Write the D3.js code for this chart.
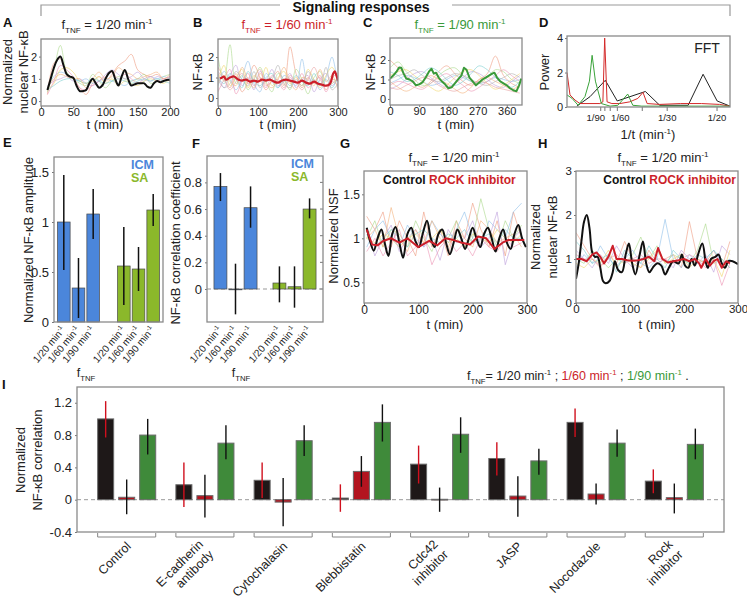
<!DOCTYPE html>
<html><head><meta charset="utf-8">
<script src="https://cdn.jsdelivr.net/npm/d3@7"></script>
<style>body{margin:0;background:#fff} svg{display:block}</style>
</head><body>
<script>
// ================= DATA =================
// Panel A (f = 1/20)
const tA_mean = [10,15,20,25,30,35,40,45,50,55,60,65,70,75,80,85,90,95,100,105,110,115,120,125,130,135,140,145,150,155,160,165,170,175,180,185,190,195,200];
const vA_mean = [0.5,1.0,1.5,1.85,2.0,1.6,1.2,1.1,1.05,0.7,0.45,0.45,0.5,0.8,1.0,0.8,0.6,0.7,1.0,1.25,1.35,1.0,0.7,1.1,1.4,1.0,0.7,0.75,0.8,0.8,0.8,0.65,0.6,0.8,0.9,0.85,0.9,0.95,0.95];
const tA_thin = [10,20,30,40,50,60,70,80,90,100,110,120,130,140,150,160,170,180,190,200];
const vA_thin = [
 [0.3,1.7,1.9,1.2,1.0,0.6,0.3,0.8,1.1,0.9,1.2,1.6,1.8,2.1,1.4,1.2,1.1,1.2,1.0,1.1],
 [0.4,1.4,2.5,1.3,1.0,0.8,0.7,1.2,0.9,0.6,0.9,1.1,1.0,0.9,1.0,1.2,0.8,0.9,1.1,1.2],
 [0.6,1.1,1.3,1.2,1.0,0.9,1.0,0.8,0.9,1.0,0.9,0.8,0.7,0.9,1.0,0.9,1.1,1.0,1.1,1.0],
 [0.7,0.9,1.0,1.1,0.9,1.0,0.8,0.7,0.9,1.2,1.4,1.2,1.0,1.1,1.3,1.0,0.9,1.1,1.0,0.9],
 [0.5,0.8,1.4,1.5,1.3,0.9,0.8,0.9,1.1,0.8,1.0,0.7,0.9,0.8,0.7,0.9,1.0,0.9,0.8,1.0],
 [0.3,0.9,1.6,1.4,1.1,0.6,0.5,0.7,0.9,1.1,1.3,1.0,1.2,1.0,0.8,1.0,1.1,0.9,1.0,1.1],
 [0.5,0.7,0.9,1.0,1.0,0.9,0.8,1.0,0.9,0.8,0.9,1.0,0.9,0.8,0.9,1.0,0.9,1.0,0.9,0.8],
 [0.6,1.0,1.2,1.1,1.0,1.0,0.6,1.0,1.3,1.0,1.1,1.5,1.3,1.2,1.0,1.1,1.2,1.3,1.0,1.2]
];
// Panel B (f = 1/60)
const tB_mean = [5,10,15,20,30,40,50,60,70,80,90,100,110,120,130,140,150,160,170,180,190,200,210,220,230,240,250,260,270,280,288,292,296,300];
const vB_mean = [0.95,1.0,1.05,0.9,1.0,1.05,0.9,0.85,0.9,0.8,0.85,0.8,0.9,0.85,0.9,0.8,0.75,0.85,0.9,0.85,0.8,0.75,0.85,0.75,0.7,0.8,0.7,0.65,0.6,0.7,1.2,1.3,1.1,0.85];
const tB_thin = [0,15,30,45,60,75,90,105,120,135,150,165,180,195,210,225,240,255,270,285,300];
const vB_thin = [
 [1.5,1.0,0.5,1.2,0.3,0.8,1.6,1.0,0.4,0.9,1.3,0.6,2.5,1.2,0.5,1.0,0.7,1.1,0.4,0.9,0.8],
 [2.0,0.8,2.6,0.7,1.1,0.4,0.9,1.5,0.8,0.3,1.2,0.9,0.4,1.4,0.9,0.2,1.0,1.3,0.6,0.7,1.0],
 [0.6,1.3,0.9,0.4,1.0,1.8,0.7,0.3,1.2,0.8,0.5,1.1,0.9,0.6,1.9,0.7,0.9,0.4,1.0,2.0,0.5],
 [1.2,0.5,1.1,1.6,0.6,1.0,0.4,1.3,0.9,1.4,0.6,0.8,1.2,0.5,0.9,1.1,0.3,0.9,1.2,0.6,1.0],
 [0.8,1.6,0.6,1.0,1.4,0.5,1.1,0.8,1.5,0.6,1.0,1.3,0.7,1.0,0.6,1.4,0.9,0.5,1.1,1.5,0.9],
 [0.3,0.9,1.4,0.2,0.8,1.2,0.6,1.0,0.5,1.1,0.8,0.4,1.0,0.7,1.2,0.5,0.8,1.0,0.3,0.8,0.6],
 [1.0,0.7,1.2,0.9,0.5,1.3,0.8,0.6,1.0,1.2,0.5,0.9,0.6,1.1,0.8,0.6,1.2,0.7,0.9,0.5,1.1],
 [0.7,1.1,0.8,0.6,1.5,0.9,0.5,1.2,0.7,0.5,0.9,1.5,0.8,0.4,1.0,0.9,0.6,1.4,0.8,1.1,0.4],
 [0.9,0.5,0.7,1.3,0.9,0.6,1.3,0.5,0.9,1.0,1.6,0.7,0.5,0.9,0.6,1.3,0.8,0.6,1.5,0.4,0.7],
 [1.3,0.9,0.4,0.8,1.2,0.7,1.0,1.4,0.6,0.8,0.9,0.5,1.1,0.8,0.4,0.9,1.5,0.9,0.6,1.0,1.2]
];
// Panel C (f = 1/90)
const tC_mean = [0,10,20,28,35,42,50,60,70,80,90,100,110,120,128,135,142,150,160,170,180,190,200,210,220,228,236,245,255,265,275,285,295,305,315,322,330,340,350,360,370,380,390,398,405];
const vC_mean = [1.05,1.2,1.4,1.62,1.6,1.3,1.05,1.0,0.9,0.7,0.75,0.85,1.1,1.4,1.55,1.3,1.35,1.1,0.9,0.75,0.55,0.6,0.8,1.0,1.2,1.6,1.5,1.1,0.9,0.7,0.85,1.0,1.1,1.2,1.3,1.35,1.1,0.9,0.8,0.7,0.55,0.45,0.4,0.7,1.05];
const tC_thin = [0,25,50,75,100,125,150,175,200,225,250,275,300,325,350,375,400];
const vC_thin = [
 [2.0,1.6,1.2,0.8,0.6,0.9,1.4,1.7,1.3,0.9,0.7,1.0,1.3,2.2,1.2,0.8,0.6],
 [1.6,1.9,1.4,1.0,0.7,0.8,1.2,1.5,1.6,1.2,0.9,0.8,1.1,1.5,1.4,1.0,0.8],
 [0.8,1.0,1.2,1.1,0.9,0.7,0.8,1.0,1.2,1.1,0.9,0.8,0.9,1.1,1.0,0.9,1.0],
 [0.5,0.7,1.0,1.3,1.4,1.1,0.8,0.6,0.8,1.1,1.4,1.3,1.0,0.7,0.6,0.9,1.2],
 [1.2,1.4,1.5,1.2,0.9,0.6,0.4,0.7,1.1,1.4,1.5,1.2,0.8,0.5,0.7,1.0,1.3],
 [0.7,0.9,0.8,0.6,0.5,0.8,1.1,1.3,1.0,0.7,0.4,0.6,0.9,1.2,1.5,1.2,0.9],
 [1.4,1.2,0.9,1.0,1.3,1.6,1.4,1.0,0.7,0.9,1.3,1.7,1.5,1.1,0.8,0.6,0.9],
 [0.9,0.6,0.4,0.6,0.9,1.2,1.0,0.8,0.5,0.3,0.6,1.0,1.1,0.9,0.7,0.5,0.7],
 [1.0,1.2,1.3,1.5,1.2,1.0,0.9,1.1,1.3,1.2,1.0,0.8,0.7,0.9,1.1,1.3,1.1],
 [0.6,0.5,0.7,0.9,1.1,1.0,0.7,0.5,0.4,0.6,0.8,0.9,0.8,0.6,0.5,0.4,0.3]
];
// Panel D (FFT power spectra: [frequency, power])
const dBlack = [[0.0033,0.05],[0.0077,0.6],[0.0128,1.55],[0.0168,0.35],[0.0262,0.9],[0.031,0.1],[0.0405,0.1],[0.0455,1.9],[0.0502,0.35],[0.0545,0.05]];
const dRed = [[0,2.0],[0.001,0.7],[0.0027,0.4],[0.0043,0.2],[0.011,0.2],[0.012,0.3],[0.0126,4.0],[0.0134,0.3],[0.015,0.2],[0.0177,0.2],[0.021,0.3],[0.0237,0.5],[0.0254,0.85],[0.0268,0.2],[0.031,0.15],[0.038,0.2],[0.045,0.2],[0.051,0.15],[0.0545,0.05]];
const dGreen = [[0,0.7],[0.0017,0.5],[0.0037,0.1],[0.006,0.6],[0.0075,1.5],[0.0084,3.0],[0.0095,1.5],[0.0115,0.2],[0.0144,0.05],[0.017,0.1],[0.0203,0.75],[0.022,0.1],[0.025,0.05],[0.04,0.05],[0.0545,0.05]];
const dTicks = [1/90,1/80,1/70,1/60,1/40,1/30,1/20];
const dTickLabels = {"0.0111":"1/90","0.0167":"1/60","0.0333":"1/30","0.0500":"1/20"};
// Panel E (amplitude) and F (correlation)
const freqLabels = ["1/20","1/60","1/90"];
const tissues = ["ICM","SA"];
const eVal = {ICM:[1.0,0.34,1.08], SA:[0.56,0.53,1.12]};
const eLo  = {ICM:[0.52,0.04,0.83], SA:[0.17,0.31,0.96]};
const eHi  = {ICM:[1.47,0.64,1.33], SA:[0.95,0.75,1.28]};
const fVal = {ICM:[0.77,-0.005,0.61], SA:[0.045,0.017,0.6]};
const fLo  = {ICM:[0.66,-0.19,0.46], SA:[-0.1,-0.14,0.53]};
const fHi  = {ICM:[0.87,0.19,0.77], SA:[0.17,0.17,0.68]};
// Panel G (NSF)
const tG_black = [5,12,18,25,32,38,45,52,58,65,72,80,87,94,101,108,116,123,130,137,144,151,158,165,172,179,186,193,200,207,214,221,228,235,242,249,256,263,270,277,284,291,298];
const vG_black = [1.12,0.95,0.86,1.0,1.1,0.95,0.8,1.05,1.13,0.95,0.78,1.05,1.12,0.98,0.9,1.05,1.2,1.0,0.9,1.05,1.1,0.95,0.82,0.95,1.1,1.0,0.88,1.0,1.12,1.0,0.9,1.05,1.12,1.0,0.85,1.0,1.1,0.95,0.88,1.05,1.15,1.0,0.9];
const tG_red = [5,15,25,35,50,65,80,90,100,120,135,150,165,180,195,210,225,240,255,265,280,295];
const vG_red = [1.1,0.93,0.92,0.97,1.0,0.95,1.0,0.95,0.9,0.97,0.92,1.0,0.98,0.95,0.93,1.02,1.0,0.88,0.95,0.98,0.98,0.98];
const tG_thin = [5,20,35,50,65,80,95,110,125,140,155,170,185,200,215,230,245,260,275,290];
const vG_thin = [
 [1.25,1.1,1.3,0.9,1.2,1.0,0.8,1.3,0.9,1.1,0.8,1.2,1.0,1.4,1.1,0.9,1.2,0.8,1.3,1.0],
 [1.0,1.2,0.9,1.1,1.05,0.9,1.2,1.0,0.85,1.1,1.0,1.2,0.9,1.0,1.45,1.1,0.9,1.2,1.0,1.15],
 [0.9,1.1,1.2,1.0,0.9,1.15,1.0,0.9,1.2,1.05,0.95,1.1,1.3,1.0,0.9,1.2,1.1,1.0,1.3,1.4],
 [1.1,0.8,1.0,1.15,0.85,1.0,1.1,0.9,1.0,0.75,1.1,0.95,1.0,1.2,0.9,1.0,1.3,0.7,1.0,1.1],
 [1.0,0.95,1.05,1.0,0.9,1.0,1.05,0.95,1.0,1.1,0.95,1.0,0.9,1.05,1.0,0.95,1.1,1.0,0.95,1.05],
 [0.85,1.0,0.8,0.95,1.1,0.8,0.9,1.05,0.7,0.9,1.0,0.85,0.95,0.8,1.0,0.9,0.85,1.0,0.9,0.95],
 [1.05,0.9,1.0,1.1,1.0,0.9,1.05,1.1,1.0,0.95,1.05,1.0,1.1,0.95,1.0,1.05,0.95,1.1,1.0,1.0],
 [1.0,1.1,0.9,1.35,1.0,0.85,1.1,0.95,1.2,1.0,0.9,1.1,1.0,0.9,1.2,1.1,0.95,1.0,1.05,0.9]
];
// Panel H (nuclear NF-kB)
const tH_black = [0,5,10,15,20,25,30,35,40,45,50,55,62,68,72,78,85,92,98,104,110,118,124,130,136,142,150,158,165,172,180,190,196,202,208,214,220,226,234,240,244,250,258,264,270,276,282,290,300];
const vH_black = [0.55,0.9,1.4,1.85,2.0,1.7,1.15,1.05,1.05,0.8,0.5,0.45,0.5,0.7,0.95,0.75,0.7,1.1,1.35,0.9,0.65,1.1,1.4,0.9,0.7,0.8,0.9,0.85,0.65,0.8,0.95,0.9,1.1,0.85,0.8,1.0,0.85,1.1,1.35,0.95,0.8,1.0,1.05,1.1,0.9,0.8,0.95,0.95,0.88];
const tH_red = [0,10,20,30,38,45,52,60,68,75,85,95,105,115,125,135,145,152,160,170,180,190,200,210,220,228,232,240,248,255,262,270,278,285];
const vH_red = [1.0,1.0,0.95,1.1,1.15,1.05,0.9,1.05,1.3,1.0,1.0,0.97,0.96,0.97,1.0,1.05,0.95,1.25,1.0,0.92,0.95,0.97,1.0,0.95,1.0,0.9,0.8,1.0,0.85,0.95,1.0,0.8,0.95,0.9];
const tH_thin = [0,15,30,45,60,75,90,105,120,135,150,165,180,195,210,225,240,255,270,285];
const vH_thin = [
 [1.6,1.3,1.0,0.8,1.1,0.9,1.4,1.0,0.8,1.2,0.9,1.0,1.1,0.8,1.85,1.0,0.9,1.2,0.8,1.4],
 [1.0,0.9,1.2,1.0,0.8,1.0,0.9,1.1,1.5,1.0,1.3,0.9,1.1,1.0,0.9,1.2,1.8,0.9,1.0,0.8],
 [0.8,1.1,0.9,1.3,1.0,0.85,1.0,1.2,0.9,0.8,1.0,1.9,1.0,0.8,1.1,0.9,1.0,1.2,0.9,1.0],
 [1.2,1.0,0.8,1.1,0.9,1.3,1.0,0.8,1.0,1.1,0.9,1.0,0.8,1.2,1.0,0.9,1.1,0.7,1.3,1.1],
 [0.9,0.8,1.0,0.9,1.2,0.8,1.0,0.9,0.8,1.0,1.2,0.9,1.0,1.1,0.8,1.0,0.9,1.0,0.6,1.2],
 [1.1,1.0,1.0,0.85,1.0,1.1,0.9,1.0,1.1,0.9,1.0,1.0,0.9,1.0,1.1,1.0,0.8,1.0,0.4,0.9],
 [1.4,1.2,0.9,1.0,1.1,0.7,1.2,1.0,0.9,1.3,1.0,0.8,1.2,1.0,0.9,1.1,1.0,1.2,1.0,0.8]
];
// Panel I (normalized correlation per treatment)
const treatments = ["Control","E-cadherin\nantibody","Cytochalasin","Blebbistatin","Cdc42\ninhibitor","JASP","Nocodazole","Rock\ninhibitor"];
const iFreqs = ["20","60","90"];
const i20 = [1.0,0.185,0.24,0.02,0.44,0.51,0.957,0.23];
const i20lo = [0.77,-0.09,0.02,-0.15,0.2,0.3,0.775,0.08];
const i20hi = [1.22,0.46,0.46,0.19,0.67,0.71,1.13,0.375];
const i60 = [0.03,0.05,-0.03,0.35,0.005,0.045,0.07,0.025];
const i60lo = [-0.18,-0.22,-0.33,0.16,-0.15,-0.21,-0.06,-0.17];
const i60hi = [0.25,0.31,0.27,0.54,0.15,0.29,0.2,0.2];
const i90 = [0.8,0.7,0.73,0.957,0.81,0.48,0.7,0.685];
const i90lo = [0.56,0.5,0.54,0.72,0.58,0.31,0.53,0.5];
const i90hi = [1.0,0.92,0.92,1.18,1.02,0.63,0.87,0.88];

// ================= STYLE =================
const FONT = '"Liberation Sans", Arial, Helvetica, sans-serif';
const RED = '#cc1f2a', GREEN = '#3a9a3a', TXT = '#222', FRAME = '#8a8a8a';
const THIN = ['#ee9a80','#a9d98a','#8fc0ea','#bd9fdc','#f0d56a','#ec94b4','#7ccfd0','#f4b27c','#b0b0b0','#e8a0a0'];
const BLUEBAR = '#4b86db', GREENBAR = '#8bb82b';
const IBLACK = '#1e1818', IRED = '#b3141f', IGREEN = '#3f8a3a';

const svg = d3.select('body').append('svg').attr('width',747).attr('height',599).attr('font-family',FONT);
svg.append('rect').attr('width',747).attr('height',599).attr('fill','#fff');
const defs = svg.append('defs');
let clipN = 0;

function rich(t, parts, base){
  let off = 0;
  parts.forEach(p=>{
    const small = p.sub||p.sup;
    const target = p.sub ? 0.3 : (p.sup ? -0.42 : 0);
    const ts = t.append('tspan').text(p.t);
    if(small) ts.attr('font-size', base*0.62);
    if(p.fill) ts.attr('fill', p.fill);
    const dy = (target-off)*base;
    if(dy!==0) ts.attr('dy', dy);
    off = target;
  });
  return t;
}
function label(x,y,parts,o={}){
  const size = o.size||12;
  const t = svg.append('text').attr('x',x).attr('y',y).attr('font-size',size)
    .attr('fill',o.fill||TXT).attr('text-anchor',o.anchor||'middle');
  if(o.weight) t.attr('font-weight',o.weight);
  if(o.rotate!=null) t.attr('transform',`rotate(${o.rotate},${x},${y})`);
  if(typeof parts==='string') t.text(parts); else rich(t,parts,size);
  return t;
}
const fT = (rest) => [{t:'f'},{t:'TNF',sub:true},{t:rest},{t:'-1',sup:true}];

function styleAxis(g, fs){
  g.attr('font-family',FONT);
  g.select('.domain').remove();
  g.selectAll('line').attr('stroke','#777');
  g.selectAll('text').attr('font-size',fs).attr('fill',TXT);
  g.selectAll('text').filter(function(){return this.textContent==='';}).remove();
}

function panel(box, xd, yd, xt, yt, o={}){
  const [x0,x1,y0,y1] = box;
  const x = d3.scaleLinear().domain(xd).range([x0,x1]);
  const y = d3.scaleLinear().domain(yd).range([y1,y0]);
  const id = 'clip'+(clipN++);
  defs.append('clipPath').attr('id',id).append('rect').attr('x',x0).attr('y',y0).attr('width',x1-x0).attr('height',y1-y0);
  const clip = svg.append('g').attr('clip-path',`url(#${id})`);
  const gx = svg.append('g').attr('transform',`translate(0,${y1})`)
    .call(d3.axisBottom(x).tickValues(xt).tickSize(o.xts||2).tickPadding(o.xtp==null?0:o.xtp).tickFormat(o.xfmt||(d=>d)));
  styleAxis(gx, o.xfs||o.fs||11);
  const gy = svg.append('g').attr('transform',`translate(${x0},0)`)
    .call(d3.axisLeft(y).tickValues(yt).tickSize(2).tickPadding(2).tickFormat(o.yfmt||(d=>d)));
  styleAxis(gy, o.fs||11);
  return {x,y,clip,box,gx};
}
function frame(box){
  svg.append('rect').attr('x',box[0]).attr('y',box[2]).attr('width',box[1]-box[0]).attr('height',box[3]-box[2])
    .attr('fill','none').attr('stroke',FRAME).attr('stroke-width',1.3);
}
function traces(p, times, sets, curve){
  sets.forEach((vals,i)=>{
    p.clip.append('path').datum(vals.map((v,j)=>[times[j],v]))
      .attr('d', d3.line().x(d=>p.x(d[0])).y(d=>p.y(d[1])).curve(curve))
      .attr('fill','none').attr('stroke',THIN[i%THIN.length]).attr('stroke-width',0.8).attr('opacity',0.75);
  });
}
function mainLine(p, times, vals, color, w, curve){
  p.clip.append('path').datum(vals.map((v,j)=>[times[j],v]))
    .attr('d', d3.line().x(d=>p.x(d[0])).y(d=>p.y(d[1])).curve(curve))
    .attr('fill','none').attr('stroke',color).attr('stroke-width',w).attr('stroke-linejoin','round');
}

// ================= HEADER =================
svg.append('path').attr('d','M41,16V5H280 M452,5H730V16').attr('fill','none').attr('stroke','#999').attr('stroke-width',1.2);
label(361,12,'Signaling responses',{size:14,weight:'bold',fill:'#111'});

// ================= A =================
const pA = panel([41,170,39,106],[0,200],[-0.22,2.79],[0,50,100,150,200],[0,1,2]);
traces(pA, tA_thin, vA_thin, d3.curveCatmullRom);
mainLine(pA, tA_mean, vA_mean, '#111', 2, d3.curveCatmullRom);
frame(pA.box);
label(107,29,fT(' = 1/20 min'),{size:13});
label(12,72,'Normalized',{size:13,rotate:-90});
label(28,72,'nuclear NF-κB',{size:13,rotate:-90});
label(105,129,'t (min)',{size:13});

// ================= B =================
const pB = panel([218,338,39,106],[0,300],[-0.39,2.88],[0,100,200,300],[0,1,2]);
traces(pB, tB_thin, vB_thin, d3.curveCatmullRom);
mainLine(pB, tB_mean, vB_mean, RED, 2.2, d3.curveCatmullRom);
frame(pB.box);
label(287,29,fT(' = 1/60 min'),{size:13,fill:RED});
label(202,72,'NF-κB',{size:13,rotate:-90});
label(278,129,'t (min)',{size:13});

// ================= C =================
const pC = panel([390,522,38,105],[0,407],[-0.31,3.13],[0,90,180,270,360],[0,1,2]);
traces(pC, tC_thin, vC_thin, d3.curveCatmullRom);
mainLine(pC, tC_mean, vC_mean, GREEN, 2, d3.curveLinear);
frame(pC.box);
label(460,29,fT(' = 1/90 min'),{size:13,fill:GREEN});
label(375,72,'NF-κB',{size:13,rotate:-90});
label(456,129,'t (min)',{size:13});

// ================= D =================
const pD = panel([567,730,36,107],[0,0.0545],[0,4.12],dTicks,[0,2,4],
  {xts:4,xtp:3,xfs:9.5,xfmt:d=>dTickLabels[d.toFixed(4)]||''});
// nudge the two crowded labels apart, as in the reference
pD.gx.selectAll('text').attr('dx', function(){ const s=this.textContent; return s==='1/90' ? -5 : (s==='1/60' ? 3 : 0); });
[[dBlack,'#222'],[dRed,'#d42a2a'],[dGreen,'#3aa33a']].forEach(([s,c])=>{
  pD.clip.append('path').datum(s).attr('d',d3.line().x(d=>pD.x(d[0])).y(d=>pD.y(d[1])))
    .attr('fill','none').attr('stroke',c).attr('stroke-width',1);
});
frame(pD.box);
label(707,53,'FFT',{size:14});
label(549,72,'Power',{size:13,rotate:-90});
label(648,139,[{t:'1/t (min'},{t:'-1',sup:true},{t:')'}],{size:13});

// ================= E / F bar panels =================
function barPanel(box, yd, yt, vals, lo, hi, o){
  const [x0,x1,y0,y1] = box;
  const y = d3.scaleLinear().domain(yd).range([y1,y0]);
  const outer = d3.scaleBand().domain(tissues).range([x0,x1]).paddingInner(o.pi).paddingOuter(o.po);
  const inner = d3.scaleBand().domain(freqLabels).range([0,outer.bandwidth()]).paddingInner(0.14);
  const gy = svg.append('g').attr('transform',`translate(${x0},0)`)
    .call(d3.axisLeft(y).tickValues(yt).tickSize(2).tickPadding(3).tickFormat(d=>d));
  styleAxis(gy, 13);
  if(o.mirror){
    yt.forEach(v=>svg.append('line').attr('x1',x1).attr('x2',x1-3).attr('y1',y(v)).attr('y2',y(v)).attr('stroke','#777'));
  }
  if(o.zero){
    svg.append('line').attr('x1',x0).attr('x2',x1).attr('y1',y(0)).attr('y2',y(0))
      .attr('stroke','#999').attr('stroke-dasharray','4,3');
  }
  tissues.forEach(ts=>{
    freqLabels.forEach((f,i)=>{
      const bx = outer(ts)+inner(f), bw = inner.bandwidth(), cx = bx+bw/2;
      const v = vals[ts][i];
      svg.append('rect').attr('x',bx).attr('y',y(Math.max(0,v))).attr('width',bw)
        .attr('height',Math.max(0.8,Math.abs(y(v)-y(0))))
        .attr('fill', ts==='ICM'?BLUEBAR:GREENBAR).attr('stroke','#4a4a4a').attr('stroke-width',0.7);
      svg.append('line').attr('x1',cx).attr('x2',cx).attr('y1',y(lo[ts][i])).attr('y2',y(hi[ts][i]))
        .attr('stroke','#111').attr('stroke-width',1.5);
      const t = svg.append('text').attr('font-size',10).attr('fill',TXT).attr('text-anchor','end')
        .attr('transform',`translate(${cx+2},${y1+8}) rotate(-50)`);
      rich(t,[{t:f+' min'},{t:'-1',sup:true}],10);
    });
  });
  frame(box);
  label(o.legX, o.legY, 'ICM', {size:12.5, weight:'bold', fill:BLUEBAR, anchor:'start'});
  label(o.legX, o.legY+13, 'SA', {size:12.5, weight:'bold', fill:GREENBAR, anchor:'start'});
  label(o.fX, 377, [{t:'f'},{t:'TNF',sub:true}], {size:12.5});
}
barPanel([54,163,157,322],[0,1.65],[0,0.5,1,1.5],eVal,eLo,eHi,{pi:0.3,po:0.058,legX:131,legY:169,fX:86});
label(33,240,'Normalized NF-κB amplitude',{size:13,rotate:-90});
barPanel([207,323,156,322],[-0.2475,0.998],[0,0.2,0.4,0.6,0.8],fVal,fLo,fHi,{pi:0.27,po:0.118,mirror:true,zero:true,legX:291,legY:168,fX:241});
label(180,243,'NF-κB correlation coefficient',{size:13,rotate:-90});

// ================= G =================
const pG = panel([364,527,171,303],[0,300],[0.265,1.765],[0,100,200,300],[0.5,1,1.5],{fs:12});
traces(pG, tG_thin, vG_thin, d3.curveLinear);
mainLine(pG, tG_black, vG_black, '#111', 2, d3.curveCatmullRom);
mainLine(pG, tG_red, vG_red, RED, 2, d3.curveLinear);
frame(pG.box);
label(454,162,fT(' = 1/20 min'),{size:13});
label(338,236,'Normalized NSF',{size:13,rotate:-90});
label(445,329,'t (min)',{size:13});
{
  const t = svg.append('text').attr('x',383).attr('y',184).attr('font-size',12).attr('font-weight','bold');
  t.append('tspan').text('Control ').attr('fill','#111');
  t.append('tspan').text('ROCK inhibitor').attr('fill',RED);
}

// ================= H =================
const pH = panel([576,738,171,303],[0,300],[0,3],[0,100,200,300],[0,1,2,3],{fs:11.5});
traces(pH, tH_thin, vH_thin, d3.curveLinear);
mainLine(pH, tH_black, vH_black, '#111', 2, d3.curveCatmullRom);
mainLine(pH, tH_red, vH_red, RED, 2, d3.curveLinear);
frame(pH.box);
label(663,162,fT(' = 1/20 min'),{size:13});
label(540,237,'Normalized',{size:13,rotate:-90});
label(557,237,'nuclear NF-κB',{size:13,rotate:-90});
label(657,329,'t (min)',{size:13});
{
  const t = svg.append('text').attr('x',736).attr('y',184).attr('font-size',12).attr('font-weight','bold').attr('text-anchor','end');
  t.append('tspan').text('Control ').attr('fill','#111');
  t.append('tspan').text('ROCK inhibitor').attr('fill',RED);
}

// ================= I =================
{
  const box = [77,724,387,532];
  const y = d3.scaleLinear().domain([-0.4,1.395]).range([box[3],box[2]]);
  const outer = d3.scaleBand().domain(treatments).range([box[0],box[1]]).paddingInner(0.258).paddingOuter(0.264);
  const inner = d3.scaleBand().domain(iFreqs).range([0,outer.bandwidth()]).paddingInner(0.238);
  const gy = svg.append('g').attr('transform',`translate(${box[0]},0)`)
    .call(d3.axisLeft(y).tickValues([-0.4,0,0.4,0.8,1.2]).tickSize(2).tickPadding(3).tickFormat(d=>d));
  styleAxis(gy, 13);
  svg.append('line').attr('x1',box[0]).attr('x2',box[1]).attr('y1',y(0)).attr('y2',y(0))
    .attr('stroke','#999').attr('stroke-dasharray','4,3');
  const sets = {"20":[i20,i20lo,i20hi,IBLACK,'#d0101e'],"60":[i60,i60lo,i60hi,IRED,'#111'],"90":[i90,i90lo,i90hi,IGREEN,'#111']};
  treatments.forEach((tr,gi)=>{
    iFreqs.forEach(f=>{
      const [v,lo,hi,fill,ec] = sets[f];
      const bx = outer(tr)+inner(f), bw = inner.bandwidth(), cx = bx+bw/2;
      svg.append('rect').attr('x',bx).attr('y',y(Math.max(0,v[gi]))).attr('width',bw)
        .attr('height',Math.max(0.8,Math.abs(y(v[gi])-y(0))))
        .attr('fill',fill).attr('stroke','#6a6a6a').attr('stroke-width',1);
      svg.append('line').attr('x1',cx).attr('x2',cx).attr('y1',y(lo[gi])).attr('y2',y(hi[gi]))
        .attr('stroke',ec).attr('stroke-width',1.4);
    });
    const gx0 = outer(tr), gx1 = gx0+outer.bandwidth(), cx = (gx0+gx1)/2;
    svg.append('path').attr('d',`M${gx0},533V537H${gx1}V533`).attr('fill','none').attr('stroke','#888').attr('stroke-width',1);
    const lines = tr.split('\n');
    const ax = lines.length>1 ? cx-1 : cx+5, ay = lines.length>1 ? 545 : 547;
    const t = svg.append('text').attr('font-size',12.5).attr('fill',TXT).attr('text-anchor','end')
      .attr('transform',`translate(${ax},${ay}) rotate(-45)`);
    lines.forEach((ln,k)=>t.append('tspan').attr('x',0).attr('dy',k?14.5:0).text(ln));
  });
  frame(box);
  label(25,460,'Normalized',{size:13,rotate:-90});
  label(42,460,'NF-κB correlation',{size:13,rotate:-90});
  label(467,380,[{t:'f'},{t:'TNF',sub:true},{t:'= 1/20 min'},{t:'-1',sup:true},{t:' ; '},
    {t:'1/60 min',fill:RED},{t:'-1',sup:true,fill:RED},{t:' ; '},
    {t:'1/90 min',fill:GREEN},{t:'-1',sup:true,fill:GREEN},{t:' .'}],{size:12.5,anchor:'start'});
}

// ================= panel letters =================
[['A',3,27],['B',193,27],['C',363,27],['D',539,27],['E',3,147],['F',192,148],['G',340,148],['H',538,148],['I',2,389]]
  .forEach(([s,x,y])=>label(x,y,s,{size:13,weight:'bold',fill:'#111',anchor:'start'}));
</script>
</body></html>
